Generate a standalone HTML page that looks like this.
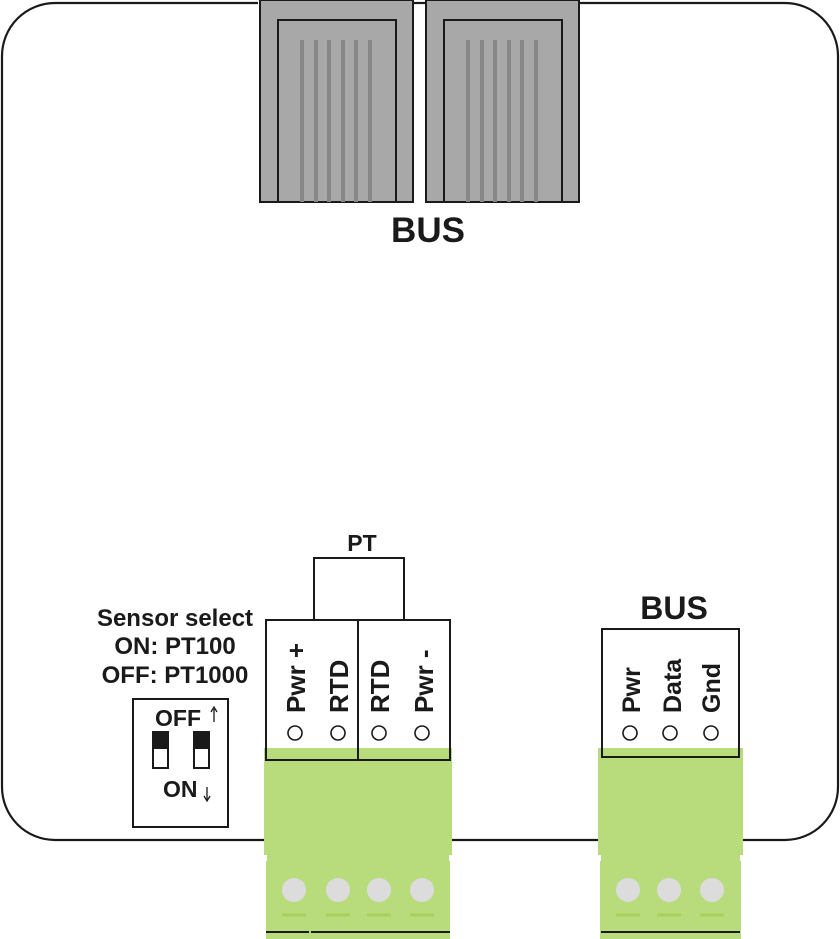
<!DOCTYPE html>
<html><head><style>html,body{margin:0;padding:0;background:#fff}svg{display:block}text{font-family:"Liberation Sans",Arial,sans-serif;font-weight:bold;fill:#1a1a1a}</style></head>
<body>
<svg width="840" height="939" viewBox="0 0 840 939" xmlns="http://www.w3.org/2000/svg">
<path d="M258,3 H55 A53,53 0 0 0 2,56 V787 A53,53 0 0 0 55,840 H264 M452,840 H598 M743,840 H785 A53,53 0 0 0 838,787 V56 A53,53 0 0 0 785,3 H580" fill="none" stroke="#1a1a1a" stroke-width="2.2"/>
<path d="M414,3 H425" stroke="#1a1a1a" stroke-width="2.2"/>
<g stroke="#1a1a1a" stroke-width="2">
<rect x="260" y="0" width="153" height="202" fill="#a8a8a8"/>
<rect x="278" y="20" width="118" height="182" fill="#a8a8a8"/>
<rect x="426" y="0" width="153" height="202" fill="#a8a8a8"/>
<rect x="444" y="20" width="118" height="182" fill="#a8a8a8"/>
</g>
<g stroke="#878787" stroke-width="4">
<path d="M302,40V202M316,40V202M329,40V202M343,40V202M356,40V202M370,40V202"/>
<path d="M468,40V202M482,40V202M495,40V202M509,40V202M522,40V202M536,40V202"/>
</g>
<text x="428" y="242" font-size="35" text-anchor="middle">BUS</text>
<text x="362" y="551" font-size="23" text-anchor="middle">PT</text>
<rect x="314" y="558" width="90" height="62" fill="none" stroke="#1a1a1a" stroke-width="2"/>
<rect x="264" y="748" width="188" height="107" fill="#b8dc7c"/>
<rect x="266" y="861" width="184" height="78" fill="#b8dc7c"/>
<rect x="267" y="855" width="182" height="8" fill="#b8dc7c"/>
<rect x="266" y="620" width="92" height="128" fill="#fff"/>
<rect x="358" y="620" width="92" height="128" fill="#fff"/>
<rect x="266" y="620" width="92" height="140" fill="none" stroke="#1a1a1a" stroke-width="2"/>
<rect x="358" y="620" width="92" height="140" fill="none" stroke="#1a1a1a" stroke-width="2"/>
<g fill="#dcdcdc"><circle cx="294" cy="890" r="12"/><circle cx="338" cy="890" r="12"/><circle cx="379" cy="890" r="12"/><circle cx="422" cy="890" r="12"/></g>
<g stroke="#a8d05c" stroke-width="3"><path d="M282,915H306M326,915H350M367,915H391M410,915H434"/></g>
<path d="M266,932H309M311,932H450" stroke="#1a1a1a" stroke-width="2"/>
<g fill="none" stroke="#1a1a1a" stroke-width="1.6"><circle cx="295" cy="733" r="7"/><circle cx="338" cy="733" r="7"/><circle cx="379" cy="733" r="7"/><circle cx="422" cy="733" r="7"/></g>
<g font-size="26">
<text transform="translate(305,713) rotate(-90)">Pwr +</text>
<text transform="translate(348,713) rotate(-90)">RTD</text>
<text transform="translate(389,713) rotate(-90)">RTD</text>
<text transform="translate(433,713) rotate(-90)">Pwr -</text>
</g>
<g font-size="24" text-anchor="middle">
<text x="175" y="626">Sensor select</text>
<text x="175" y="654">ON: PT100</text>
<text x="175" y="683">OFF: PT1000</text>
</g>
<rect x="133" y="699" width="95" height="128" fill="#fff" stroke="#1a1a1a" stroke-width="2"/>
<text x="155" y="726" font-size="23">OFF</text>
<text x="163" y="797" font-size="23">ON</text>
<path d="M214,722V709M211,712L214,707L217,712" stroke="#1a1a1a" stroke-width="1.3" fill="none"/>
<path d="M207,787V800M204,796L207,801L210,796" stroke="#1a1a1a" stroke-width="1.3" fill="none"/>
<rect x="153" y="732" width="15" height="36" fill="#fff" stroke="#1a1a1a" stroke-width="2"/>
<rect x="153" y="732" width="15" height="17" fill="#1a1a1a"/>
<rect x="194" y="732" width="15" height="36" fill="#fff" stroke="#1a1a1a" stroke-width="2"/>
<rect x="194" y="732" width="15" height="17" fill="#1a1a1a"/>
<text x="674" y="619" font-size="32" text-anchor="middle">BUS</text>
<rect x="598" y="748" width="145" height="107" fill="#b8dc7c"/>
<rect x="600" y="861" width="141" height="78" fill="#b8dc7c"/>
<rect x="601" y="855" width="139" height="8" fill="#b8dc7c"/>
<rect x="602" y="629" width="137" height="119" fill="#fff"/>
<rect x="602" y="629" width="137" height="128" fill="none" stroke="#1a1a1a" stroke-width="2"/>
<g fill="#dcdcdc"><circle cx="628" cy="890" r="12"/><circle cx="669" cy="890" r="12"/><circle cx="712" cy="890" r="12"/></g>
<g stroke="#a8d05c" stroke-width="3"><path d="M616,915H640M657,915H681M700,915H724"/></g>
<path d="M601,932H740" stroke="#1a1a1a" stroke-width="2"/>
<g fill="none" stroke="#1a1a1a" stroke-width="1.6"><circle cx="630" cy="733" r="7"/><circle cx="670" cy="733" r="7"/><circle cx="711" cy="733" r="7"/></g>
<g font-size="25">
<text transform="translate(640,713) rotate(-90)">Pwr</text>
<text transform="translate(681,713) rotate(-90)">Data</text>
<text transform="translate(720,713) rotate(-90)">Gnd</text>
</g>
</svg>
</body></html>
